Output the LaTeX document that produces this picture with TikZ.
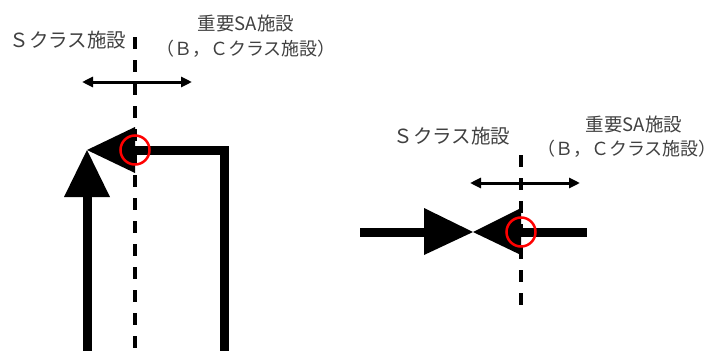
\documentclass[tikz,border=0pt]{standalone}
\usepackage{fontspec}
\newfontfamily\jpfont{Noto Sans CJK JP}
\usetikzlibrary{arrows.meta}
\begin{document}
\begin{tikzpicture}[x=1pt,y=-1pt,
  pipe/.style={line width=9pt, line join=miter},
  valvetri/.style={fill=black},
  boundary/.style={line width=4pt, dash pattern=on 12pt off 11pt},
  span/.style={line width=3pt, {Triangle[length=11pt,width=10pt]}-{Triangle[length=11pt,width=10pt]}},
  joint/.style={draw=red, line width=2.5pt, circle, minimum size=29pt, inner sep=0pt},
  lbl/.style={text=black!75, align=center, inner sep=0pt},
  fs/.style={font=\jpfont\fontsize{19.5}{25}\selectfont},
  fa/.style={font=\jpfont\fontsize{18.5}{25}\selectfont},
  fb/.style={font=\jpfont\fontsize{18}{25}\selectfont}
]
\useasboundingbox (0,0) rectangle (718,351);

% ---------- left figure ----------
\coordinate (LdTop) at (135,37);
\coordinate (LdBot) at (135,351);
\draw[boundary] (LdTop) -- (LdBot);

\coordinate (LaL) at (82,82);
\coordinate (LaR) at (192,82);
\draw[span] (LaL) -- (LaR);

\coordinate (Lapex) at (87,150);
\coordinate (LhT) at (135,127);
\coordinate (LhB) at (135,173);
\coordinate (LvL) at (64,197);
\coordinate (LvR) at (110,197);
\coordinate (LvBase) at (87,197);
\coordinate (LpBot) at (87,351);
\coordinate (Lj) at (135,150);
\coordinate (LrBot) at (224,351);

\draw[pipe] (LvBase) -- (LpBot);
\draw[pipe] (Lj) -| (LrBot);
\fill[valvetri] (Lapex) -- (LhT) -- (LhB) -- cycle;
\fill[valvetri] (Lapex) -- (LvR) -- (LvL) -- cycle;
\node[joint] (LjC) at (Lj) {};

\node[lbl,fs] (LtS) at (68,40) {Ｓクラス施設};
\node[lbl,fa] (LtB1) at (246,23) {重要SA施設};
\node[lbl,fb] (LtB2) at (246,49) {（Ｂ，Ｃクラス施設）};

% ---------- right figure ----------
\coordinate (RdTop) at (521,155);
\coordinate (RdBot) at (521,305);
\draw[boundary] (RdTop) -- (RdBot);

\coordinate (RaL) at (470,183);
\coordinate (RaR) at (580,183);
\draw[span] (RaL) -- (RaR);

\coordinate (RpL) at (360,232);
\coordinate (RbL) at (424,232);
\coordinate (Rj) at (521,232);
\coordinate (RpR) at (587,232);
\coordinate (Rapex) at (473,232);
\coordinate (RbLT) at (424,208);
\coordinate (RbLB) at (424,255);
\coordinate (RbRT) at (521,208);
\coordinate (RbRB) at (521,255);

\draw[pipe] (RpL) -- (RbL);
\draw[pipe] (Rj) -- (RpR);
\fill[valvetri] (RbLT) -- (Rapex) -- (RbLB) -- cycle;
\fill[valvetri] (Rapex) -- (RbRT) -- (RbRB) -- cycle;
\node[joint] (RjC) at (Rj) {};

\node[lbl,fs] (RtS) at (452,136) {Ｓクラス施設};
\node[lbl,fa] (RtB1) at (634,124) {重要SA施設};
\node[lbl,fb] (RtB2) at (627,149) {（Ｂ，Ｃクラス施設）};
\end{tikzpicture}
\end{document}
